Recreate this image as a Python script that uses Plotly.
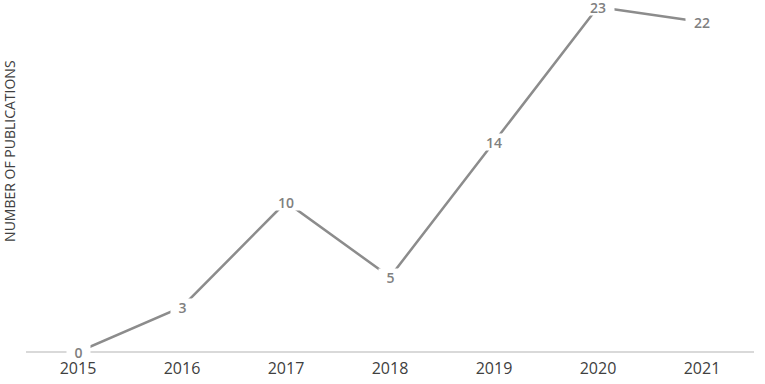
import plotly.graph_objects as go

years = ["2015", "2016", "2017", "2018", "2019", "2020", "2021"]
publications = [0, 3, 10, 5, 14, 23, 22]
y_title = "NUMBER OF PUBLICATIONS"

fig = go.Figure()
fig.add_trace(go.Scatter(
    x=years, y=publications, mode="lines",
    line=dict(color="#8c8c8c", width=2.5),
    hoverinfo="skip", showlegend=False, cliponaxis=False,
))

for i, v in enumerate(publications):
    label = str(v)
    fig.add_annotation(
        x=i, y=v, text=label, showarrow=False,
        font=dict(family="Open Sans", size=14, color="#808080", weight=600),
        bgcolor="white", borderpad=0, height=16, width=9 * len(label) + 14,
        xref="x", yref="y",
    )

fig.add_annotation(
    x=0, xref="paper", xanchor="center", xshift=-16,
    y=0.58, yref="paper", yanchor="middle",
    text=y_title, textangle=-90, showarrow=False,
    font=dict(family="Open Sans", size=14, color="#404040"),
)

fig.update_layout(
    width=765, height=384,
    margin=dict(l=26, r=11, t=7, b=32, autoexpand=False),
    plot_bgcolor="white", paper_bgcolor="white",
    xaxis=dict(
        type="category", range=[-0.5, 6.5],
        showgrid=False, zeroline=False,
        showline=False, ticks="", ticklabelstandoff=5,
        tickfont=dict(family="Open Sans", size=16, color="#404040"),
    ),
    yaxis=dict(
        range=[0, 23], showgrid=False, zeroline=True,
        zerolinecolor="#d9d9d9", zerolinewidth=1.5,
        showticklabels=False, ticks="", showline=False,
    ),
)

fig.write_html("out.html", config={"displayModeBar": False},
               post_script="document.body.style.margin='0';")
